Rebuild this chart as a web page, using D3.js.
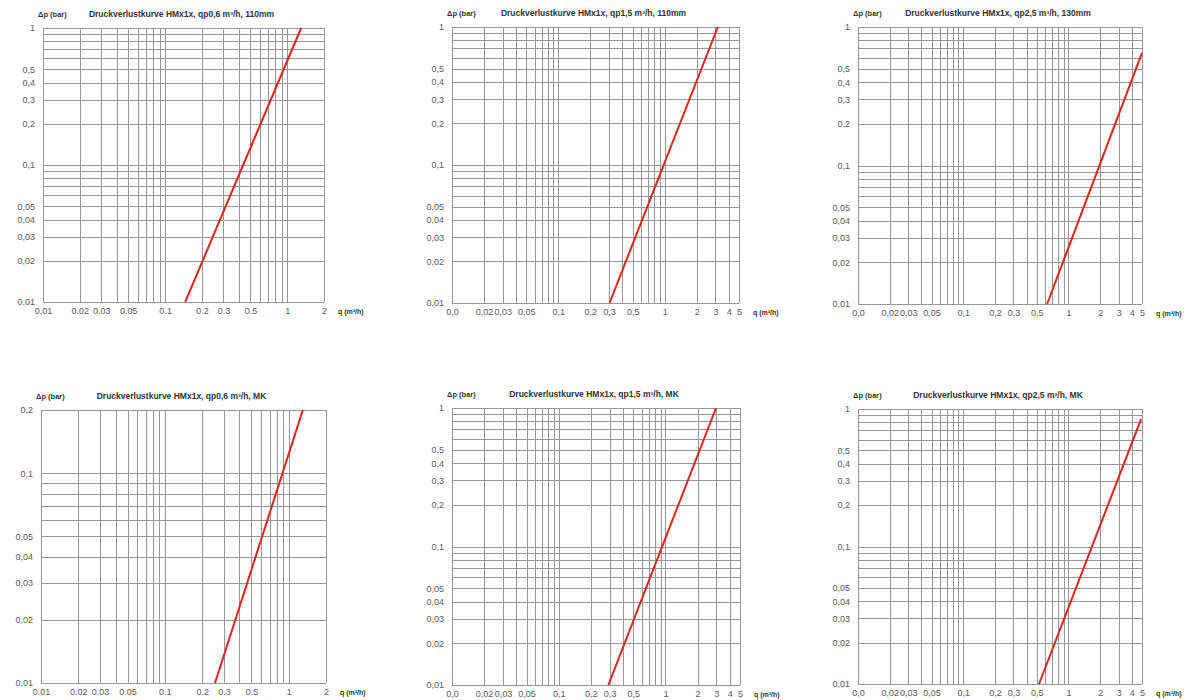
<!DOCTYPE html>
<html>
<head>
<meta charset="utf-8">
<script src="https://cdn.jsdelivr.net/npm/d3@7"></script>
<style>
  body { margin: 0; background: #fff; }
  svg { display: block; font-family: "Liberation Sans", Arial, sans-serif; }
  .grid line { stroke: #979797; stroke-width: 1; shape-rendering: crispEdges; }
  .grid path { display: none; }
  .lab path, .lab line { display: none; }
  .lab text { fill: #5a5a5a; font-size: 9px; }
</style>
</head>
<body>
<svg id="chart" width="1186" height="700"></svg>
<script>
// Titel der sechs Diagramme
const titles = [
  "Druckverlustkurve HMx1x, qp0,6 m³/h, 110mm",
  "Druckverlustkurve HMx1x, qp1,5 m³/h, 110mm",
  "Druckverlustkurve HMx1x, qp2,5 m³/h, 130mm",
  "Druckverlustkurve HMx1x, qp0,6 m³/h, MK",
  "Druckverlustkurve HMx1x, qp1,5 m³/h, MK",
  "Druckverlustkurve HMx1x, qp2,5 m³/h, MK"
];

// Achsenbereiche
const qMax = [2, 5, 5, 2, 5, 5];
const dpMax = [1, 1, 1, 0.2, 1, 1];

// Kurven: Anfangs- und Endpunkt (q in m³/h, Δp in bar)
const curveQ = [[0.146, 1.30], [0.303, 3.16], [0.627, 5.0], [0.254, 1.30], [0.292, 2.98], [0.525, 4.9]];
const curveDp = [[0.01, 1], [0.01, 1], [0.01, 0.65], [0.01, 0.2], [0.01, 1], [0.01, 0.845]];

// Beschriftungen x-Achse
const xTicks2 = [0.01, 0.02, 0.03, 0.05, 0.1, 0.2, 0.3, 0.5, 1, 2];
const xLabels2a = ["0,01", "0.02", "0.03", "0.05", "0.1", "0.2", "0.3", "0.5", "1", "2"];
const xLabels2b = ["0.01", "0.02", "0.03", "0.05", "0.1", "0.2", "0.3", "0.5", "1", "2"];
const xTicks5 = [0.01, 0.02, 0.03, 0.05, 0.1, 0.2, 0.3, 0.5, 1, 2, 3, 4, 5];
const xLabels5 = ["0,0", "0,02", "0,03", "0,05", "0,1", "0,2", "0,3", "0,5", "1", "2", "3", "4", "5"];

// Beschriftungen y-Achse
const yTicks1 = [1, 0.5, 0.4, 0.3, 0.2, 0.1, 0.05, 0.04, 0.03, 0.02, 0.01];
const yLabels1 = ["1", "0,5", "0,4", "0,3", "0,2", "0,1", "0,05", "0,04", "0,03", "0,02", "0,01"];
const yTicks02 = [0.2, 0.1, 0.05, 0.04, 0.03, 0.02, 0.01];
const yLabels02 = ["0,2", "0,1", "0,05", "0,04", "0,03", "0,02", "0,01"];

// Lage der Diagrammflächen im Bild
const layout = [
  { x0: 43, x1: 324, y0: 28, y1: 302 },
  { x0: 452, x1: 739, y0: 27, y1: 303 },
  { x0: 858, x1: 1142, y0: 27, y1: 304 },
  { x0: 41, x1: 326, y0: 410, y1: 683 },
  { x0: 452, x1: 740, y0: 408, y1: 685 },
  { x0: 858, x1: 1142, y0: 409, y1: 684 }
];

const svg = d3.select("#chart");

titles.forEach((title, i) => {
  const box = layout[i];
  const w = box.x1 - box.x0;
  const h = box.y1 - box.y0;
  const g = svg.append("g").attr("transform", `translate(${box.x0},${box.y0})`);

  const x = d3.scaleLog().domain([0.01, qMax[i]]).range([0, w]);
  const y = d3.scaleLog().domain([0.01, dpMax[i]]).range([h, 0]);

  // Gitter
  g.append("g").attr("class", "grid")
    .attr("transform", `translate(0,${h})`)
    .call(d3.axisBottom(x).tickValues(x.ticks()).tickSize(-h).tickFormat(""));
  g.append("g").attr("class", "grid")
    .call(d3.axisLeft(y).tickValues(y.ticks()).tickSize(-w).tickFormat(""));

  // Beschriftungen
  const xt = qMax[i] === 2 ? xTicks2 : xTicks5;
  const xl = qMax[i] === 2 ? (i === 0 ? xLabels2a : xLabels2b) : xLabels5;
  const yt = dpMax[i] === 1 ? yTicks1 : yTicks02;
  const yl = dpMax[i] === 1 ? yLabels1 : yLabels02;

  g.append("g").attr("class", "lab")
    .attr("transform", `translate(0,${h})`)
    .call(d3.axisBottom(x).tickValues(xt).tickSize(0).tickPadding(6)
      .tickFormat((d, k) => xl[k]));
  g.append("g").attr("class", "lab")
    .call(d3.axisLeft(y).tickValues(yt).tickSize(0).tickPadding(8)
      .tickFormat((d, k) => yl[k]));

  // Kurve
  const pts = curveQ[i].map((q, k) => [q, curveDp[i][k]]);
  g.append("path")
    .datum(pts)
    .attr("fill", "none")
    .attr("stroke", "#e2231a")
    .attr("stroke-width", 2)
    .attr("d", d3.line().x(d => x(d[0])).y(d => y(d[1])));

  // Titel und Achsentitel
  g.append("text")
    .attr("x", w / 2 - 2)
    .attr("y", -11)
    .attr("text-anchor", "middle")
    .style("font-size", "8.5px")
    .style("font-weight", "bold")
    .style("fill", "#333")
    .text(title);

  g.append("text")
    .attr("x", -5)
    .attr("y", -11)
    .style("font-size", "7.5px")
    .style("font-weight", "bold")
    .style("fill", "#333")
    .text("Δp (bar)");

  g.append("text")
    .attr("x", w + 14)
    .attr("y", h + 12)
    .style("font-size", "7px")
    .style("font-weight", "bold")
    .style("fill", "#333")
    .text("q (m³/h)");
});
</script>
</body>
</html>
